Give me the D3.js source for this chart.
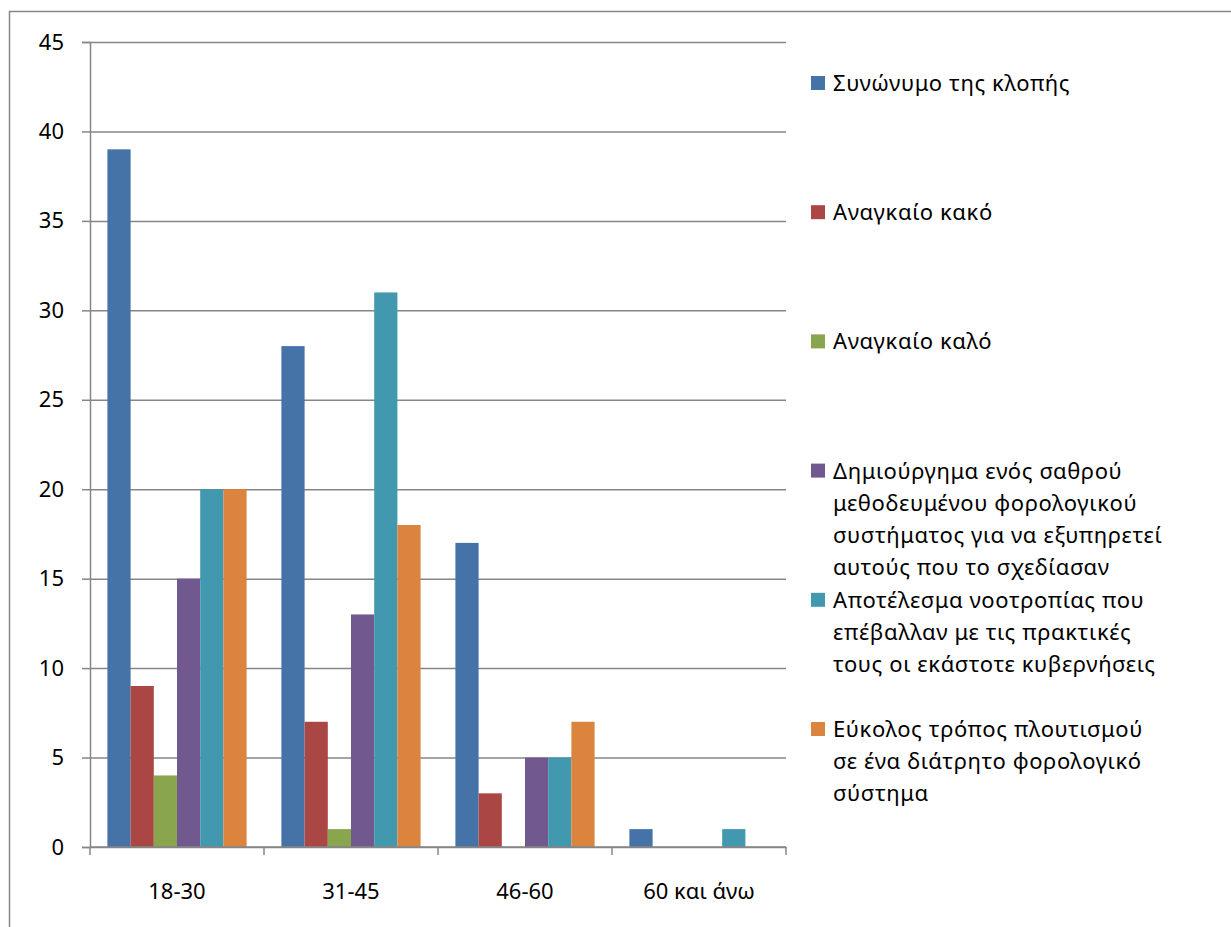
<!DOCTYPE html>
<html>
<head>
<meta charset="utf-8">
<script src="https://cdn.jsdelivr.net/npm/d3@7"></script>
<style>
  body { margin: 0; background: #fff; }
  text { font-family: "Noto Sans", "Open Sans", sans-serif; fill: #000; }
</style>
</head>
<body>
<script>
const categories = ["18-30", "31-45", "46-60", "60 και άνω"]
const seriesNames = [
    ["Συνώνυμο της κλοπής"],
    ["Αναγκαίο κακό"],
    ["Αναγκαίο καλό"],
    ["Δημιούργημα ενός σαθρού", "μεθοδευμένου φορολογικού", "συστήματος για να εξυπηρετεί", "αυτούς που το σχεδίασαν"],
    ["Αποτέλεσμα νοοτροπίας που", "επέβαλλαν με τις πρακτικές", "τους οι εκάστοτε κυβερνήσεις"],
    ["Εύκολος τρόπος πλουτισμού", "σε ένα διάτρητο φορολογικό", "σύστημα"],
]
// one array per series, one value per age group
const synonymo = [39, 28, 17, 1]
const anagkaioKako = [9, 7, 3, 0]
const anagkaioKalo = [4, 1, 0, 0]
const dimiourgima = [15, 13, 5, 0]
const apotelesma = [20, 31, 5, 1]
const eukolos = [20, 18, 7, 0]
const yTicks = [0, 5, 10, 15, 20, 25, 30, 35, 40, 45]

const seriesValues = [synonymo, anagkaioKako, anagkaioKalo, dimiourgima, apotelesma, eukolos]
const colors = ["#4572A7", "#AA4643", "#89A54E", "#71588F", "#4198AF", "#DB843D"]

const width = 1231
const height = 927
const plot = { left: 90, right: 786, top: 42, bottom: 847 }
const gray = "#868686"

const svg = d3.select("body")
    .append("svg")
    .attr("width", width)
    .attr("height", height)

// chart frame (right and bottom edges fall outside the picture)
svg.append("rect")
    .attr("x", 9.5)
    .attr("y", 11.5)
    .attr("width", 1300)
    .attr("height", 1000)
    .attr("fill", "none")
    .attr("stroke", gray)
    .attr("stroke-width", 1.5)

const x = d3.scaleBand()
    .domain(categories)
    .range([plot.left, plot.right])

const gap = x.bandwidth() * 0.75 / 7.5
const xs = d3.scaleBand()
    .domain(d3.range(seriesValues.length))
    .range([gap, x.bandwidth() - gap])

const y = d3.scaleLinear()
    .domain([0, 45])
    .range([plot.bottom, plot.top])

// gridlines
svg.append("g")
    .attr("transform", `translate(${plot.left},0)`)
    .call(d3.axisLeft(y).tickValues(yTicks).tickSize(-(plot.right - plot.left)).tickFormat(""))
    .call((g) => g.select(".domain").remove())
    .call((g) => g.selectAll("line").attr("stroke", gray).attr("stroke-width", 1.5))

// y axis
svg.append("g")
    .attr("transform", `translate(${plot.left},0)`)
    .call(d3.axisLeft(y).tickValues(yTicks).tickSize(8).tickPadding(18))
    .call((g) => g.select(".domain").attr("stroke", gray).attr("stroke-width", 1.5))
    .call((g) => g.selectAll("line").attr("stroke", gray).attr("stroke-width", 1.5))
    .call((g) => g.selectAll("text").attr("font-size", 22).attr("font-family", null).attr("fill", "#000"))

// bars
seriesValues.forEach((vals, s) => {
    svg.append("g")
        .selectAll("rect")
        .data(vals)
        .join("rect")
        .attr("x", (_, i) => x(categories[i]) + xs(s))
        .attr("y", (d) => y(d))
        .attr("width", xs.bandwidth())
        .attr("height", (d) => y(0) - y(d))
        .attr("fill", colors[s])
})

// x axis
const xAxis = svg.append("g")
    .attr("transform", `translate(0,${plot.bottom})`)
xAxis.append("line")
    .attr("x1", plot.left)
    .attr("x2", plot.right)
    .attr("stroke", gray)
    .attr("stroke-width", 1.5)
xAxis.selectAll("line.tick")
    .data(d3.range(categories.length + 1))
    .join("line")
    .attr("class", "tick")
    .attr("x1", (i) => plot.left + i * x.step())
    .attr("x2", (i) => plot.left + i * x.step())
    .attr("y1", 0)
    .attr("y2", 8)
    .attr("stroke", gray)
    .attr("stroke-width", 1.5)
xAxis.selectAll("text")
    .data(categories)
    .join("text")
    .attr("x", (d) => x(d) + x.bandwidth() / 2)
    .attr("y", 52)
    .attr("text-anchor", "middle")
    .attr("font-size", 22)
    .text((d) => d)

// legend
const legend = svg.append("g")
seriesNames.forEach((lines, s) => {
    const ty = 76 + s * 129.2
    legend.append("rect")
        .attr("x", 811)
        .attr("y", ty)
        .attr("width", 14)
        .attr("height", 14)
        .attr("fill", colors[s])
    legend.append("text")
        .attr("x", 833)
        .attr("y", ty + 15)
        .attr("font-size", 22)
        .attr("letter-spacing", 0.6)
        .selectAll("tspan")
        .data(lines)
        .join("tspan")
        .attr("x", 833)
        .attr("dy", (_, i) => i === 0 ? 0 : 32)
        .text((d) => d)
})
</script>
</body>
</html>
